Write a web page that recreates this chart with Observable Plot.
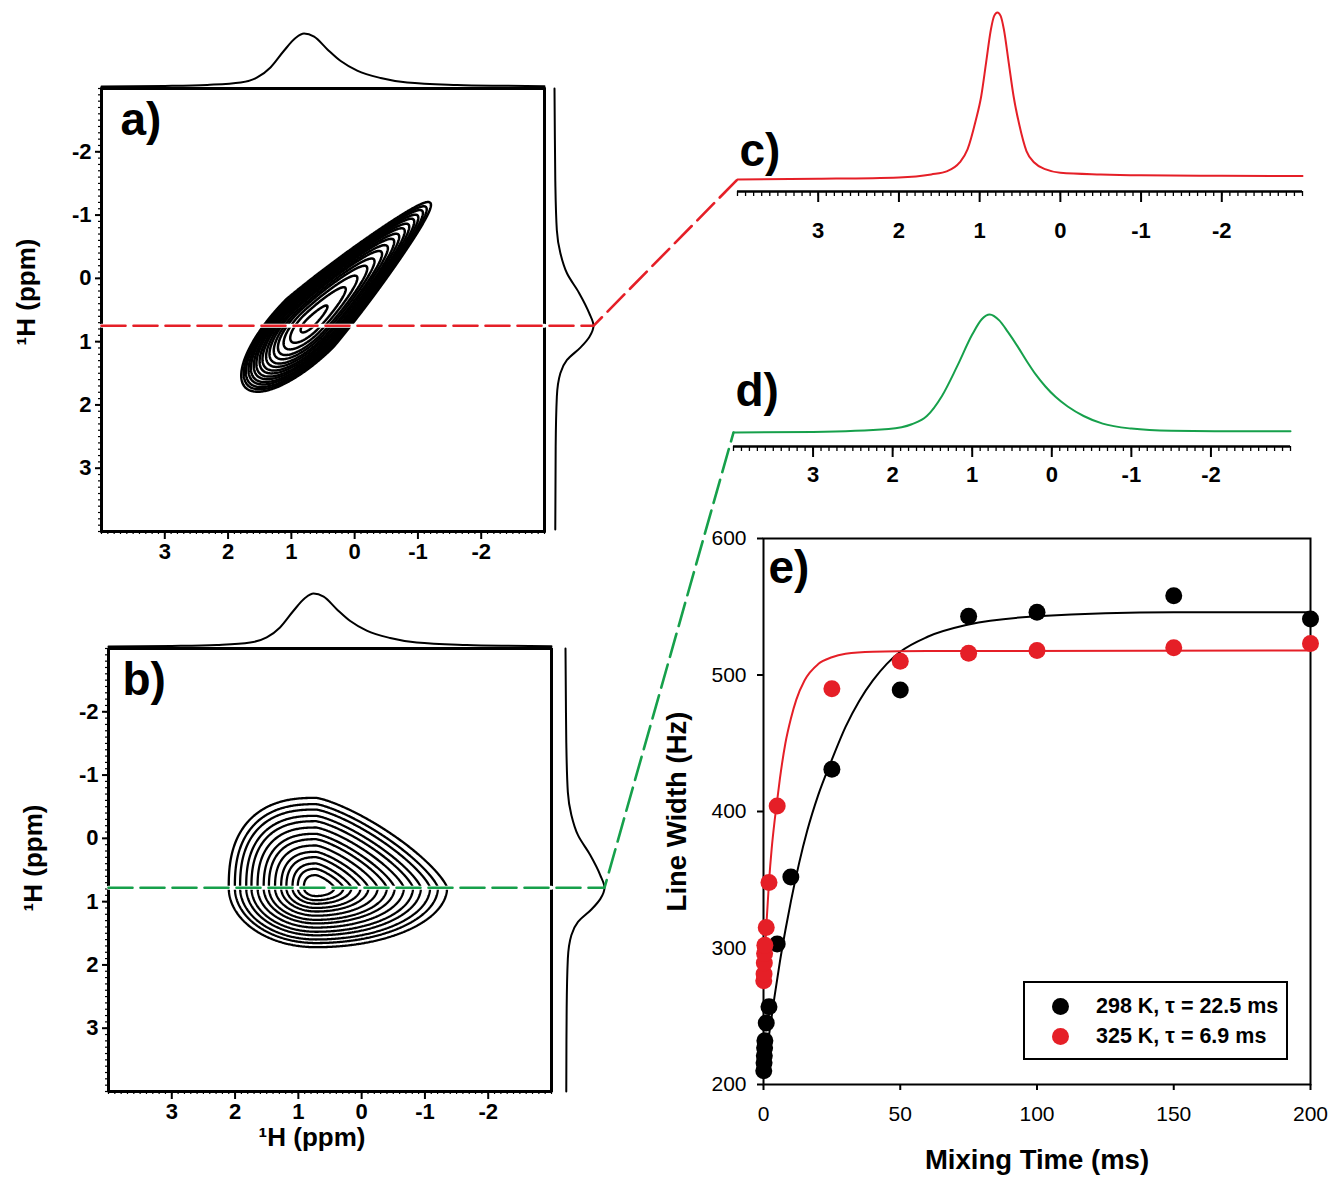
<!DOCTYPE html>
<html><head><meta charset="utf-8">
<script src="https://cdn.jsdelivr.net/npm/d3@7"></script>
<script src="https://cdn.jsdelivr.net/npm/@observablehq/plot@0.6"></script>
<style>
body{margin:0;background:#fff;}
#page{position:relative;width:1333px;height:1177px;overflow:hidden;background:#fff;font-family:"Liberation Sans",Arial,sans-serif;}
#legend{position:absolute;border:2px solid #000;background:#fff;box-sizing:border-box;font-weight:bold;font-size:21.5px;}
#legend .row{position:absolute;left:0;display:flex;align-items:center;white-space:nowrap;}
#legend .dot{display:inline-block;width:17px;height:17px;border-radius:50%;margin-right:27px;}
</style></head><body><div id="page"></div>
<script>
// ================= DATA =================
const ppmTicks = [3, 2, 1, 0, -1, -2];
const ppmDomain = [4, -3];
const panelLabels = ["a)", "b)", "c)", "d)", "e)"];
const ppmTitle = "¹H (ppm)";
const sliceA = 0.75;          // red slice (ppm)
const sliceB = 0.78;          // green slice (ppm)

// projections (ppm, normalised intensity)
const topAPpm = [4.0, 3.0, 2.33, 1.8, 1.54, 1.33, 1.12, 0.93, 0.8, 0.64, 0.43, 0.22, -0.04, -0.41, -0.83, -1.62, -2.2, -3.0];
const topAInt = [0.0, 0.01, 0.03, 0.075, 0.17, 0.36, 0.67, 0.92, 1.0, 0.94, 0.70, 0.48, 0.30, 0.16, 0.075, 0.03, 0.015, 0.006];
const rightAPpm = [-3.0, -2.2, -1.55, -0.76, -0.4, -0.08, 0.23, 0.55, 0.75, 0.93, 1.09, 1.29, 1.5, 1.87, 2.66, 3.97];
const rightAInt = [0.0, 0.01, 0.02, 0.06, 0.15, 0.32, 0.63, 0.89, 1.0, 0.89, 0.67, 0.32, 0.15, 0.06, 0.03, 0.02];
const topBPpm = [4.0, 3.0, 2.29, 1.76, 1.5, 1.29, 1.08, 0.89, 0.76, 0.6, 0.39, 0.18, -0.08, -0.45, -0.87, -1.66, -2.24, -3.0];
const topBInt = [0.0, 0.01, 0.03, 0.075, 0.17, 0.36, 0.67, 0.92, 1.0, 0.94, 0.70, 0.48, 0.30, 0.16, 0.075, 0.03, 0.015, 0.006];
const rightBPpm = [-3.0, -2.17, -1.52, -0.73, -0.37, -0.05, 0.26, 0.58, 0.78, 0.96, 1.12, 1.32, 1.53, 1.9, 2.69, 4.0];
const rightBInt = [0.0, 0.01, 0.02, 0.06, 0.15, 0.32, 0.63, 0.89, 1.0, 0.89, 0.67, 0.32, 0.15, 0.06, 0.03, 0.02];

// slices c) and d)
const cPpm = [4.0, 3.0, 2.0, 1.6, 1.4, 1.25, 1.15, 1.05, 0.98, 0.92, 0.86, 0.82, 0.78, 0.74, 0.70, 0.64, 0.58, 0.51, 0.42, 0.32, 0.18, 0.0, -0.5, -1.0, -2.0, -3.0];
const cInt = [0.0, 0.004, 0.012, 0.03, 0.05, 0.1, 0.18, 0.35, 0.5, 0.7, 0.9, 0.98, 1.0, 0.98, 0.9, 0.7, 0.5, 0.33, 0.17, 0.1, 0.06, 0.04, 0.03, 0.025, 0.022, 0.02];
const dPpm = [4.0, 3.0, 2.05, 1.76, 1.57, 1.38, 1.19, 1.0, 0.88, 0.78, 0.66, 0.55, 0.43, 0.31, 0.2, 0.08, -0.05, -0.2, -0.4, -0.64, -1.0, -1.5, -2.2, -3.0];
const dInt = [0.0, 0.005, 0.03, 0.07, 0.14, 0.31, 0.56, 0.83, 0.96, 1.0, 0.95, 0.85, 0.73, 0.6, 0.49, 0.39, 0.3, 0.22, 0.14, 0.075, 0.033, 0.014, 0.01, 0.01];

// 2D peak shapes
const peakCenterA = [0.7, 0.7];             // [F2 ppm, F1 ppm]
const peakSpreadA = [1.45, 2.68, 0.53];     // along diagonal (high ppm side, low ppm side), across diagonal
const peakTaperA = 0.45;
const contourLevelsA = [0.02, 0.085, 0.15, 0.22, 0.28, 0.35, 0.41, 0.48, 0.54, 0.61, 0.67, 0.74, 0.8, 0.87, 0.93, 1.0];
const peakCenterB = [0.72, 0.78];
const peakSpreadB = [1.38, 2.07, 1.42, 0.94]; // left, right, top, bottom
const peakShapeB = [2.5, 1.3, 2.0, 2.0];      // top-left, top-right, bottom-right, bottom-left
const contourLevelsB = [0.14, 0.21, 0.27, 0.34, 0.4, 0.47, 0.54, 0.6, 0.67, 0.74, 0.8, 0.87, 0.93, 1.0];

// e) line widths
const mixTicks = [0, 50, 100, 150, 200];
const widthTicks = [200, 300, 400, 500, 600];
const blackT = [0.1, 0.2, 0.3, 0.4, 0.5, 1, 2, 5, 10, 25, 50, 75, 100, 150, 200];
const blackW = [210, 216, 221, 227, 232, 245, 257, 303, 352, 431, 489, 543, 546, 558, 541];
const redT = [0.1, 0.2, 0.3, 0.4, 0.5, 1, 2, 5, 25, 50, 75, 100, 150, 200];
const redW = [276, 281, 289, 296, 302, 315, 348, 404, 490, 510, 516, 518, 520, 523];
const blackFitT = [0, 2, 4, 6, 8, 10, 13, 16, 20, 25, 30, 35, 40, 45, 50, 60, 75, 100, 150, 200];
const blackFitW = [206, 236, 264, 290, 313, 334, 362, 386, 412, 438, 462, 481, 496, 508, 517, 528, 537, 543, 546, 546];
const redFitT = [0, 1, 2, 3, 4, 5, 6, 8, 10, 12, 15, 20, 25, 30, 40, 60, 200];
const redFitW = [275, 315, 348, 373, 392, 408, 424, 450, 468, 482, 496, 508, 513, 515.5, 517, 517.5, 518];
const legendLabels = ["298 K, \u03c4 = 22.5 ms", "325 K, \u03c4 = 6.9 ms"];
const seriesColors = ["#000000", "#e51f27"];
const xTitleE = "Mixing Time (ms)";
const yTitleE = "Line Width (Hz)";
const redLine = "#e51f27";
const greenLine = "#16a04b";

// ================= BUILD =================
const FONT = '"Liberation Sans", Arial, sans-serif';
const page = document.getElementById("page");
const rows = (xs, ys) => xs.map((v, i) => ({a: v, b: ys[i]}));
const minorPpm = d3.range(-30, 41).map(i => i / 10);

function placed(left, top, opts) {
  const svg = Plot.plot({
    ...opts,
    style: {position: "absolute", left: left + "px", top: top + "px", overflow: "visible",
            background: "transparent", fontFamily: FONT, color: "black"}
  });
  page.appendChild(svg);
  return {
    svg,
    px: v => svg.scale("x").apply(v) + left,
    py: v => svg.scale("y").apply(v) + top
  };
}

function ppmAxes2D() {
  return [
    Plot.axisX({ticks: minorPpm, tickSize: 3, text: null, strokeWidth: 1.2, label: null}),
    Plot.axisX({ticks: ppmTicks, tickSize: 8, tickPadding: 4, tickFormat: d => `${d}`, strokeWidth: 2,
                fontSize: 22, fontWeight: "bold", label: null}),
    Plot.axisY({ticks: minorPpm, tickSize: 3, text: null, strokeWidth: 1.2, label: null}),
    Plot.axisY({ticks: ppmTicks, tickSize: 6, tickPadding: 4, tickFormat: d => `${d}`, strokeWidth: 2,
                fontSize: 22, fontWeight: "bold", label: null})
  ];
}

function valueA(x, y) {
  const dx = x - peakCenterA[0], dy = y - peakCenterA[1];
  const dd = (dx + dy) / Math.SQRT2, da = (dx - dy) / Math.SQRT2;
  const sd = dd >= 0 ? peakSpreadA[0] : peakSpreadA[1];
  const sa = peakSpreadA[2] * (dd < 0 ? Math.max(0.25, 1 + peakTaperA * dd / peakSpreadA[1]) : 1);
  return (dd / sd) ** 2 + (da / sa) ** 2;
}
function valueB(x, y) {
  const dx = x - peakCenterB[0], dy = y - peakCenterB[1];
  const sx = dx >= 0 ? peakSpreadB[0] : peakSpreadB[1];
  const sy = dy <= 0 ? peakSpreadB[2] : peakSpreadB[3];
  const p = dy <= 0 ? (dx >= 0 ? peakShapeB[0] : peakShapeB[1]) : (dx < 0 ? peakShapeB[2] : peakShapeB[3]);
  return (Math.abs(dx / sx) ** p + Math.abs(dy / sy) ** p) ** (1 / p);
}

function panel2D(left, top, mb, valueFn, levels, label, labelDx, titleDy, sw) {
  return placed(left, top, {
    width: 527, height: 4 + 443 + mb, marginLeft: 80, marginRight: 4, marginTop: 4, marginBottom: mb,
    x: {domain: ppmDomain, axis: null}, y: {domain: ppmDomain, axis: null},
    marks: [
      Plot.contour({value: valueFn, x1: 4, x2: -3, y1: 4, y2: -3, thresholds: levels,
                    stroke: "black", strokeWidth: sw, fill: "none", pixelSize: 1}),
      Plot.frame({strokeWidth: 2}),
      ...ppmAxes2D(),
      Plot.text([label], {text: d => d, frameAnchor: "top-left", dx: labelDx, dy: 14, lineAnchor: "top",
                          textAnchor: "start", fontSize: 46, fontWeight: "bold"}),
      Plot.text([ppmTitle], {text: d => d, frameAnchor: "left", rotate: -90, dx: -75, dy: titleDy,
                             textAnchor: "middle", fontSize: 26, fontWeight: "bold"})
    ]
  });
}

function projTop(left, top, ppm, ints) {
  return placed(left, top, {
    width: 527, height: 60, marginLeft: 80, marginRight: 4, marginTop: 5, marginBottom: 2,
    x: {domain: ppmDomain, axis: null}, y: {domain: [0, 1], axis: null},
    marks: [Plot.line(rows(ppm, ints), {x: "a", y: "b", curve: "monotone-x", stroke: "black", strokeWidth: 2})]
  });
}
function projRight(left, top, mb, ppm, ints) {
  return placed(left, top, {
    width: 47, height: 4 + 443 + mb, marginLeft: 4, marginRight: 4, marginTop: 4, marginBottom: mb,
    x: {domain: [0, 1], axis: null}, y: {domain: ppmDomain, axis: null},
    marks: [Plot.line(rows(ppm, ints), {x: "b", y: "a", curve: "monotone-y", stroke: "black", strokeWidth: 2})]
  });
}

function slicePanel(left, top, height, mt, mb, width, frameW, yMin, ppm, ints, color, label, labelDy, pad) {
  return placed(left, top, {
    width, height, marginLeft: 20, marginRight: width - 20 - frameW, marginTop: mt, marginBottom: mb,
    x: {domain: ppmDomain, axis: null}, y: {domain: [yMin, 1], axis: null},
    marks: [
      Plot.ruleY([yMin], {strokeWidth: 2.5}),
      Plot.axisX({ticks: minorPpm, tickSize: 5, text: null, strokeWidth: 1.3, label: null}),
      Plot.axisX({ticks: ppmTicks, tickSize: 11, tickPadding: pad, tickFormat: d => `${d}`, strokeWidth: 2,
                  fontSize: 22, fontWeight: "bold", label: null}),
      Plot.line(rows(ppm, ints), {x: "a", y: "b", curve: "monotone-x", stroke: color, strokeWidth: 2}),
      Plot.text([label], {text: d => d, frameAnchor: "top-left", dx: 2, dy: labelDy, lineAnchor: "top",
                          textAnchor: "start", fontSize: 46, fontWeight: "bold"})
    ]
  });
}

// a)
const A2D = panel2D(21, 84, 46, valueA, contourLevelsA, panelLabels[0], 19, -18, 2.5);
const ATop = projTop(21, 28, topAPpm, topAInt);
const ARight = projRight(550, 84, 46, rightAPpm, rightAInt);
// b)
const B2D = panel2D(28, 644, 80, valueB, contourLevelsB, panelLabels[1], 14, -12, 2.3);
const BTop = projTop(28, 588, topBPpm, topBInt);
const BRight = projRight(561, 644, 80, rightBPpm, rightBInt);
// x title under b)
placed(28, 644, {
  width: 527, height: 527, marginLeft: 80, marginRight: 4, marginTop: 4, marginBottom: 80,
  x: {domain: ppmDomain, axis: null}, y: {domain: ppmDomain, axis: null},
  marks: [Plot.text([ppmTitle], {text: d => d, frameAnchor: "bottom", dx: -18, dy: 54, textAnchor: "middle",
                                 fontSize: 26, fontWeight: "bold"})]
});
// c) and d)
const C = slicePanel(717, 0, 250, 12, 59, 615, 565, -0.0723, cPpm, cInt, redLine, panelLabels[2], 121, 20);
const D = slicePanel(713, 300, 205, 14, 59, 617, 557, -0.1186, dPpm, dInt, greenLine, panelLabels[3], 59, 9);

// e)
const E = placed(640, 520, {
  width: 690, height: 654, marginLeft: 123, marginRight: 20, marginTop: 18, marginBottom: 90,
  x: {domain: [0, 200], axis: null}, y: {domain: [200, 600], axis: null},
  marks: [
    Plot.frame({strokeWidth: 2}),
    Plot.axisX({ticks: mixTicks, tickSize: 6, tickPadding: 16, fontSize: 21, strokeWidth: 2, label: null}),
    Plot.axisY({ticks: widthTicks, tickSize: 6, tickPadding: 11, fontSize: 21, strokeWidth: 2, label: null}),
    Plot.line(rows(blackFitT, blackFitW), {x: "a", y: "b", curve: "monotone-x", stroke: seriesColors[0], strokeWidth: 2}),
    Plot.line(rows(redFitT, redFitW), {x: "a", y: "b", curve: "monotone-x", stroke: seriesColors[1], strokeWidth: 2}),
    Plot.dot(rows(blackT, blackW), {x: "a", y: "b", r: 8.5, fill: seriesColors[0]}),
    Plot.dot(rows(redT, redW), {x: "a", y: "b", r: 8.5, fill: seriesColors[1]}),
    Plot.text([panelLabels[4]], {text: d => d, frameAnchor: "top-left", dx: 5, dy: 12, lineAnchor: "top",
                                 textAnchor: "start", fontSize: 46, fontWeight: "bold"}),
    Plot.text([xTitleE], {text: d => d, frameAnchor: "bottom", dy: 84, textAnchor: "middle", fontSize: 27.5, fontWeight: "bold"}),
    Plot.text([yTitleE], {text: d => d, frameAnchor: "left", rotate: -90, dx: -86, textAnchor: "middle",
                          fontSize: 27.5, fontWeight: "bold"})
  ]
});

// legend (HTML)
const legend = document.createElement("div");
legend.id = "legend";
Object.assign(legend.style, {left: "1023px", top: "981px", width: "265px", height: "79px"});
legendLabels.forEach((t, i) => {
  const r = document.createElement("div");
  r.className = "row";
  r.style.top = (i === 0 ? 11 : 41) + "px";
  r.style.left = "27px";
  const d = document.createElement("span");
  d.className = "dot"; d.style.background = seriesColors[i];
  const s = document.createElement("span"); s.textContent = t;
  r.append(d, s); legend.append(r);
});
page.appendChild(legend);

// connectors overlay
const peakA = d3.max(rightAInt), peakB = d3.max(rightBInt);
const redPts = [
  {x: A2D.px(ppmDomain[0]), y: A2D.py(sliceA)},
  {x: ARight.px(peakA), y: ARight.py(sliceA)},
  {x: C.px(cPpm[0]), y: C.py(cInt[0])}
];
const greenPts = [
  {x: B2D.px(ppmDomain[0]), y: B2D.py(sliceB)},
  {x: BRight.px(peakB), y: BRight.py(sliceB)},
  {x: D.px(dPpm[0]), y: D.py(dInt[0])}
];
const under = (pts, p2d) => [pts[0], {x: p2d.px(ppmDomain[1]), y: pts[0].y}];
placed(0, 0, {
  width: 1333, height: 1177, margin: 0,
  x: {domain: [0, 1333], range: [0, 1333], axis: null},
  y: {domain: [0, 1177], range: [0, 1177], axis: null},
  marks: [
    Plot.line(under(redPts, A2D), {x: "x", y: "y", stroke: "white", strokeWidth: 4}),
    Plot.line(under(greenPts, B2D), {x: "x", y: "y", stroke: "white", strokeWidth: 4}),
    Plot.line(redPts, {x: "x", y: "y", stroke: redLine, strokeWidth: 2.6, strokeDasharray: "24,8"}),
    Plot.line(greenPts, {x: "x", y: "y", stroke: greenLine, strokeWidth: 2.6, strokeDasharray: "24,8"})
  ]
}).svg.style.pointerEvents = "none";
</script></body></html>
